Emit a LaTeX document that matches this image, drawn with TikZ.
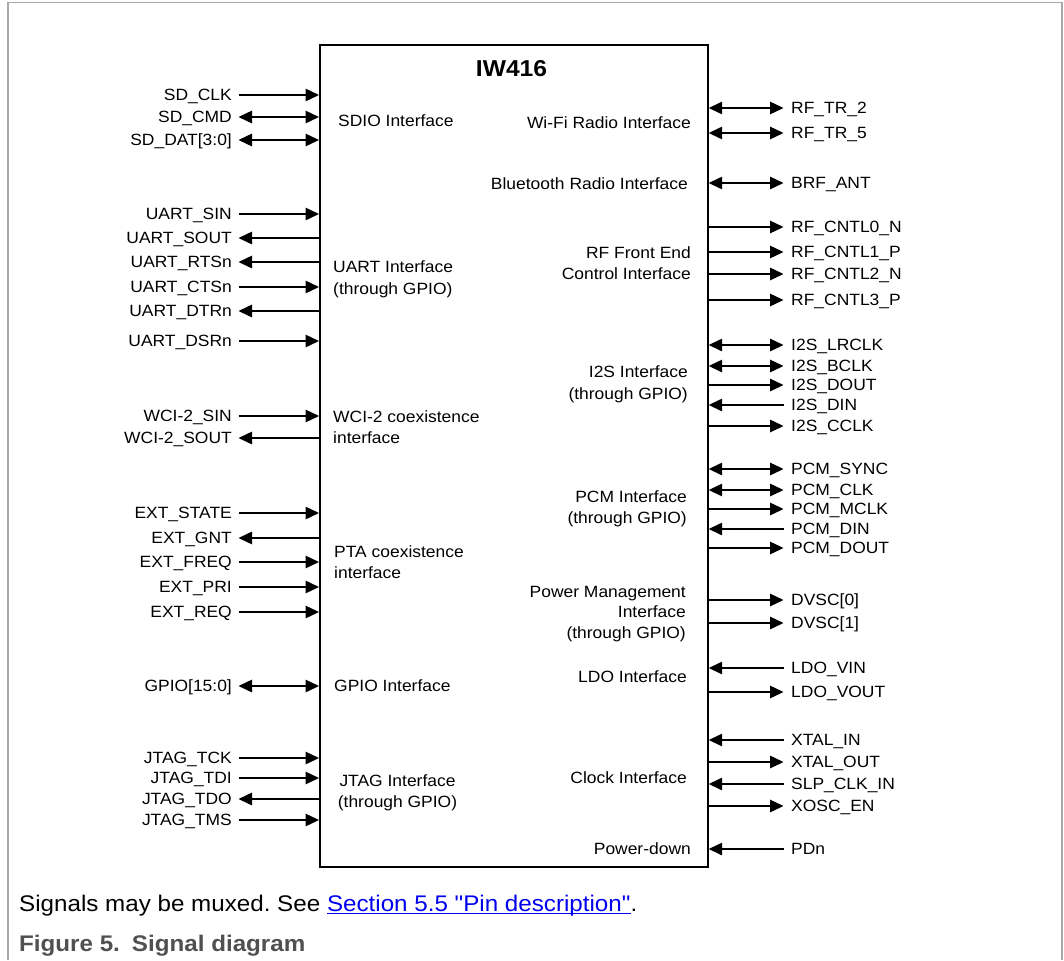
\documentclass[tikz,border=0pt]{standalone}
\usepackage{fontspec}
\setmainfont{Liberation Sans}[FakeStretch=1.07, Ligatures=TeXOff]
\usetikzlibrary{arrows.meta}
\definecolor{framegray}{RGB}{168,168,168}
\definecolor{linkblue}{RGB}{0,0,238}
\definecolor{capgray}{RGB}{80,80,80}
\frenchspacing
\newcommand\lsig[4]{%
  \node[siglbl, anchor=east] (#1) at (232,#3) {#2};
  \draw[#4] ([xshift=6.5pt]#1.east) -- (chip.west |- #1.east);}
\newcommand\rsig[4]{%
  \node[siglbl, anchor=west] (#1) at (791,#3) {#2};
  \draw[#4] ([xshift=-7.5pt]#1.west) -- (chip.east |- #1.west);}
\newcommand\linkul[1]{\setbox0\hbox{#1}\rlap{\rule[-2.6pt]{\wd0}{1.1pt}}\box0}
\begin{document}
\begin{tikzpicture}[x=1pt,y=-1pt,
  body/.style={font=\fontsize{16.3}{21.5}\selectfont},
  siglbl/.style={body, inner sep=0pt, text height=11.7pt, text depth=0pt},
  iface/.style={body, inner sep=0pt},
  conn/.style={line width=1.4pt},
  tip/.tip={Triangle[length=13.5pt,width=12.5pt]},
  tochip/.style={conn, -tip},
  fromchip/.style={conn, tip-},
  both/.style={conn, tip-tip}]
\useasboundingbox (0,0) rectangle (1064,960);
\fill[white] (0,0) rectangle (1064,960);
\draw[framegray, line width=1.2pt] (8,960) -- (8,2.5) -- (1062,2.5) -- (1062,960);

% chip
\node[draw, line width=1.7pt, minimum width=388pt, minimum height=822pt,
      inner sep=0pt, anchor=north west] (chip) at (319,44) {};
\node[font=\fontsize{23}{27}\selectfont\bfseries, inner sep=0pt,
      text height=16.5pt, text depth=0pt] (title) at (511.5,68) {IW416};

% left interface labels
\node[siglbl, anchor=west] (sdio) at (338,121) {SDIO Interface};
\node[iface, anchor=north west, align=left] (uart) at (333,261) {UART Interface\\(through GPIO)};
\node[iface, anchor=north west, align=left] (wci) at (333,410) {WCI-2 coexistence\\interface};
\node[iface, anchor=north west, align=left] (pta) at (334,545) {PTA coexistence\\interface};
\node[siglbl, anchor=west] (gpioif) at (334,686) {GPIO Interface};
\node[iface, anchor=north, align=center] (jtag) at (397.5,774) {JTAG Interface\\(through GPIO)};

% right interface labels
\node[siglbl, anchor=east] (wifi) at (691,123) {Wi-Fi Radio Interface};
\node[siglbl, anchor=east] (bt) at (688,184) {Bluetooth Radio Interface};
\node[iface, anchor=north east, align=right] (rffe) at (691,246) {RF Front End\\Control Interface};
\node[iface, anchor=north east, align=right] (i2s) at (688,366) {I2S Interface\\(through GPIO)};
\node[iface, anchor=north east, align=right] (pcm) at (687,490) {PCM Interface\\(through GPIO)};
\node[iface, anchor=north east, align=right, font=\fontsize{16.3}{20.5}\selectfont] (pm) at (686,586) {Power Management\\Interface\\(through GPIO)};
\node[siglbl, anchor=east] (ldo) at (687,677) {LDO Interface};
\node[siglbl, anchor=east] (clk) at (687,778) {Clock Interface};
\node[siglbl, anchor=east] (pd) at (691,849) {Power-down};

% left signals
\lsig{sdclk}{SD\_CLK}{95}{tochip}
\lsig{sdcmd}{SD\_CMD}{117}{both}
\lsig{sddat}{SD\_DAT[3:0]}{140}{both}
\lsig{usin}{UART\_SIN}{214}{tochip}
\lsig{usout}{UART\_SOUT}{238}{fromchip}
\lsig{urts}{UART\_RTSn}{262}{fromchip}
\lsig{ucts}{UART\_CTSn}{287}{tochip}
\lsig{udtr}{UART\_DTRn}{311}{fromchip}
\lsig{udsr}{UART\_DSRn}{341}{tochip}
\lsig{wsin}{WCI-2\_SIN}{416}{tochip}
\lsig{wsout}{WCI-2\_SOUT}{438}{fromchip}
\lsig{estate}{EXT\_STATE}{513}{tochip}
\lsig{egnt}{EXT\_GNT}{538}{fromchip}
\lsig{efreq}{EXT\_FREQ}{562}{tochip}
\lsig{epri}{EXT\_PRI}{587}{tochip}
\lsig{ereq}{EXT\_REQ}{612}{tochip}
\lsig{gpio}{GPIO[15:0]}{686}{both}
\lsig{jtck}{JTAG\_TCK}{758}{tochip}
\lsig{jtdi}{JTAG\_TDI}{778}{tochip}
\lsig{jtdo}{JTAG\_TDO}{799}{fromchip}
\lsig{jtms}{JTAG\_TMS}{820}{tochip}

% right signals
\rsig{rftr2}{RF\_TR\_2}{108}{both}
\rsig{rftr5}{RF\_TR\_5}{133}{both}
\rsig{brf}{BRF\_ANT}{183}{both}
\rsig{rfc0}{RF\_CNTL0\_N}{227}{fromchip}
\rsig{rfc1}{RF\_CNTL1\_P}{252}{fromchip}
\rsig{rfc2}{RF\_CNTL2\_N}{274}{fromchip}
\rsig{rfc3}{RF\_CNTL3\_P}{300}{fromchip}
\rsig{ilr}{I2S\_LRCLK}{345}{both}
\rsig{ib}{I2S\_BCLK}{366}{both}
\rsig{idout}{I2S\_DOUT}{385}{fromchip}
\rsig{idin}{I2S\_DIN}{405}{tochip}
\rsig{icc}{I2S\_CCLK}{426}{fromchip}
\rsig{psync}{PCM\_SYNC}{469}{both}
\rsig{pclk}{PCM\_CLK}{490}{both}
\rsig{pmclk}{PCM\_MCLK}{509}{fromchip}
\rsig{pdin}{PCM\_DIN}{529}{tochip}
\rsig{pdout}{PCM\_DOUT}{548}{fromchip}
\rsig{dv0}{DVSC[0]}{600}{fromchip}
\rsig{dv1}{DVSC[1]}{623}{fromchip}
\rsig{lvin}{LDO\_VIN}{668}{tochip}
\rsig{lvout}{LDO\_VOUT}{692}{fromchip}
\rsig{xin}{XTAL\_IN}{740}{tochip}
\rsig{xout}{XTAL\_OUT}{762}{fromchip}
\rsig{slp}{SLP\_CLK\_IN}{784}{tochip}
\rsig{xosc}{XOSC\_EN}{806}{fromchip}
\rsig{pdn}{PDn}{849}{tochip}

% captions
\node[font=\fontsize{22.6}{26}\selectfont, inner sep=0pt, text height=16.2pt, text depth=0pt,
      anchor=west] (note) at (19,903)
  {Signals may be muxed. See {\color{linkblue}\linkul{Section 5.5 "Pin description"}}.};
\node[font=\fontsize{22.6}{26}\selectfont\bfseries, text=capgray, inner sep=0pt,
      text height=16.2pt, text depth=0pt, anchor=west] (figcap) at (19,943)
  {Figure 5.\hspace{12pt}Signal diagram};
\end{tikzpicture}
\end{document}
